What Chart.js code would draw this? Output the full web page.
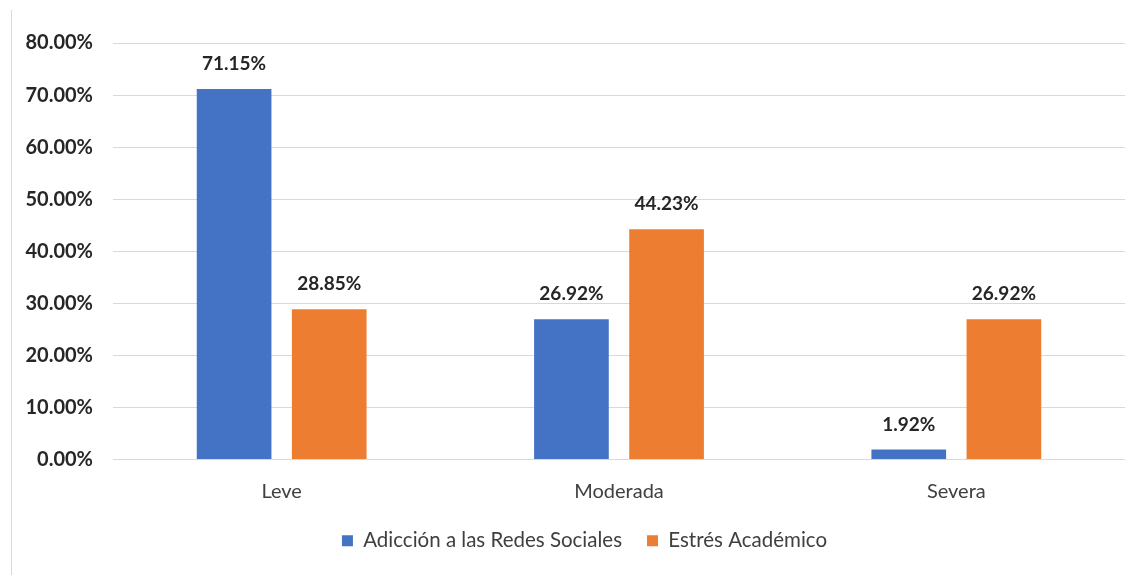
<!DOCTYPE html>
<html>
<head>
<meta charset="utf-8">
<script src="https://cdn.jsdelivr.net/npm/chart.js@4"></script>
<style>
  html, body { margin: 0; padding: 0; background: #fff; }
  #wrap { width: 1145px; height: 575px; }
</style>
</head>
<body>
<div id="wrap"><canvas id="myChart"></canvas></div>
<script>
'use strict';

let categories = ['Leve', 'Moderada', 'Severa'];
let adiccion = [71.15, 26.92, 1.92];
let estres = [28.85, 44.23, 26.92];
let seriesNames = ['Adicción a las Redes Sociales', 'Estrés Académico'];
let yTicks = [0, 10, 20, 30, 40, 50, 60, 70, 80];

let textColor = '#404040';
let fontFamily = 'Lato, "Liberation Sans", sans-serif';

// value labels above each bar
let barLabels = {
  id: 'barLabels',
  afterDatasetsDraw(chart) {
    let ctx = chart.ctx;
    ctx.save();
    ctx.font = 'bold 19px ' + fontFamily;
    ctx.fillStyle = '#262626';
    ctx.textAlign = 'center';
    ctx.textBaseline = 'middle';
    chart.data.datasets.forEach((ds, i) => {
      chart.getDatasetMeta(i).data.forEach((bar, j) => {
        ctx.fillText(ds.data[j].toFixed(2) + '%', bar.x, bar.y - 25);
      });
    });
    ctx.restore();
  }
};

// thin frame line on the left edge, and nudge the legend to the right
let leftEdge = {
  id: 'leftEdge',
  beforeDraw(chart) {
    let ctx = chart.ctx;
    ctx.save();
    ctx.strokeStyle = '#d9d9d9';
    ctx.lineWidth = 1;
    ctx.beginPath();
    ctx.moveTo(11.5, 10);
    ctx.lineTo(11.5, 575);
    ctx.stroke();
    ctx.restore();
    if (!chart.legend._shifted) {
      chart.legend.left += 22;
      chart.legend.right += 22;
      chart.legend._shifted = true;
    }
  }
};

let ctx = document.getElementById('myChart');

let config = {
  type: 'bar',
  data: {
    labels: categories,
    datasets: [
      {
        label: seriesNames[0],
        data: adiccion,
        backgroundColor: '#4472C4',
        barPercentage: 0.785,
        categoryPercentage: 0.564
      },
      {
        label: seriesNames[1],
        data: estres,
        backgroundColor: '#ED7D31',
        barPercentage: 0.785,
        categoryPercentage: 0.564
      }
    ]
  },
  options: {
    responsive: true,
    maintainAspectRatio: false,
    animation: false,
    layout: {
      padding: { left: 0, right: 20, top: 43, bottom: 14 }
    },
    plugins: {
      legend: {
        position: 'bottom',
        labels: {
          boxWidth: 11,
          boxHeight: 11,
          padding: 25,
          color: textColor,
          font: { family: fontFamily, size: 20.5 }
        }
      },
      tooltip: { enabled: false }
    },
    scales: {
      x: {
        grid: { display: false, drawTicks: false },
        border: { display: false },
        ticks: {
          color: textColor,
          padding: 20,
          font: { family: fontFamily, size: 20 }
        },
        afterFit(scale) { scale.height = 46; }
      },
      y: {
        min: 0,
        max: 80,
        afterBuildTicks(scale) {
          scale.ticks = yTicks.map(v => ({ value: v }));
        },
        grid: { color: '#d9d9d9', drawTicks: false },
        border: { display: false },
        ticks: {
          color: '#262626',
          padding: 20,
          font: { family: fontFamily, size: 20, weight: 'bold' },
          callback: v => v.toFixed(2) + '%'
        },
        afterFit(scale) { scale.width = 113; }
      }
    }
  },
  plugins: [barLabels, leftEdge]
};

new Chart(ctx, config);
</script>
</body>
</html>
